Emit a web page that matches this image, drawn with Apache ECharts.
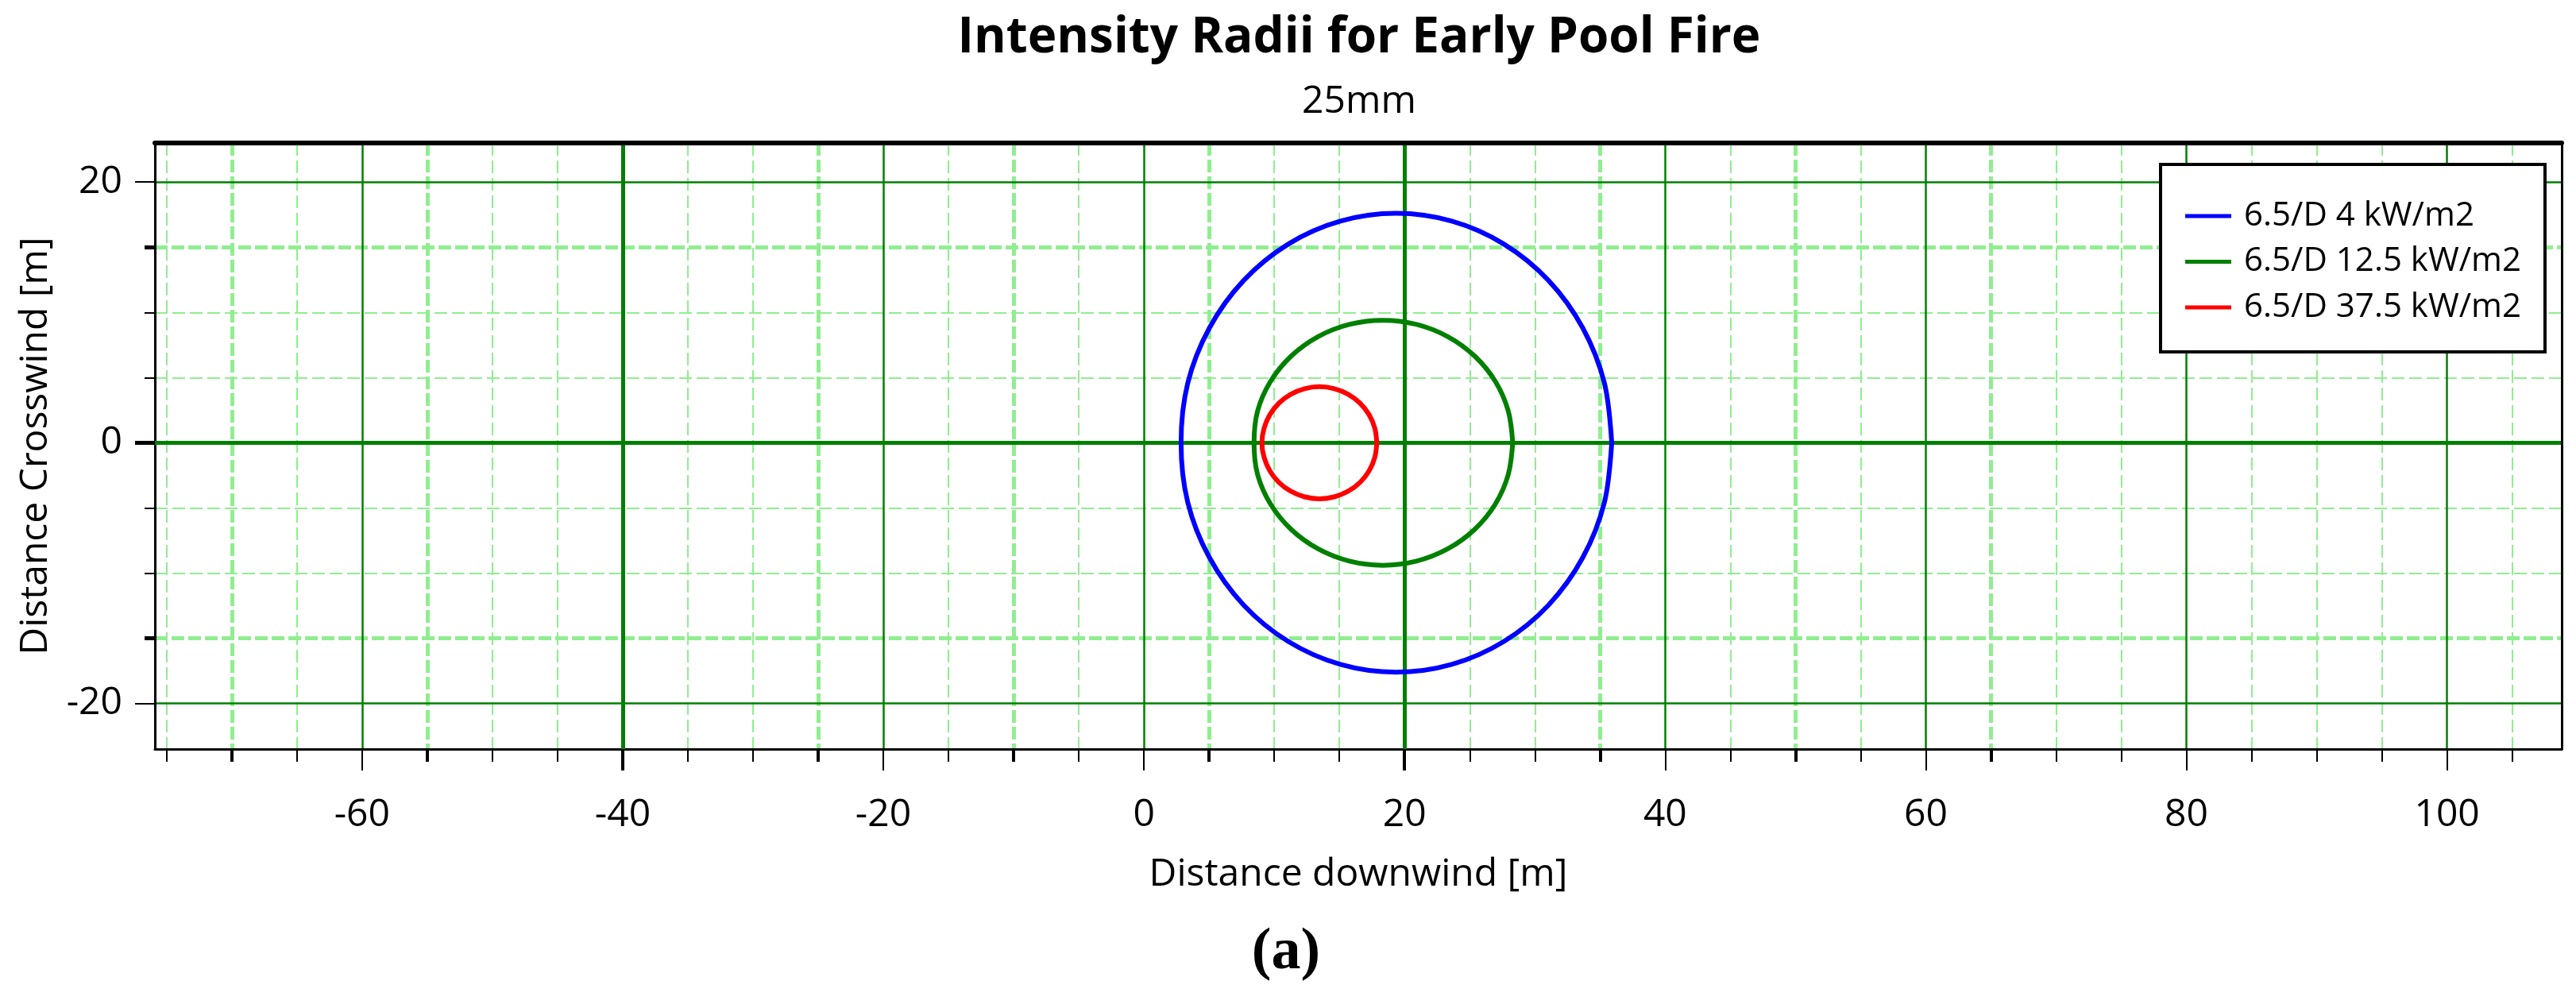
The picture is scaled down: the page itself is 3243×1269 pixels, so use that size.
<!DOCTYPE html>
<html>
<head>
<meta charset="utf-8">
<script src="https://cdn.jsdelivr.net/npm/echarts@6/dist/echarts.min.js"></script>
<style>
html,body{margin:0;padding:0;background:#ffffff;}
#chart{width:3243px;height:1269px;}
</style>
</head>
<body>
<div id="chart"></div>
<script>
// ---------- data ----------
const seriesNames = ['6.5/D 4 kW/m2', '6.5/D 12.5 kW/m2', '6.5/D 37.5 kW/m2'];

// contour points [downwind m, crosswind m]
const contour4kW = [
  [35.90, 0.00], [35.34, 4.56], [33.68, 8.80], [31.05, 12.45], [27.63, 15.24], [23.63, 17.00],
  [19.35, 17.60], [15.07, 17.00], [11.07, 15.24], [7.65, 12.45], [5.02, 8.80], [3.36, 4.56],
  [2.85, 0.00], [3.36, -4.56], [5.02, -8.80], [7.65, -12.45], [11.07, -15.24], [15.07, -17.00],
  [19.35, -17.60], [23.63, -17.00], [27.63, -15.24], [31.05, -12.45], [33.68, -8.80], [35.34, -4.56],
  [35.90, 0.00]
];
const contour12kW = [
  [28.30, 0.00], [27.96, 2.43], [26.97, 4.70], [25.38, 6.65], [23.32, 8.14], [20.92, 9.08],
  [18.34, 9.40], [15.76, 9.08], [13.36, 8.14], [11.30, 6.65], [9.71, 4.70], [8.72, 2.43],
  [8.45, 0.00], [8.72, -2.43], [9.71, -4.70], [11.30, -6.65], [13.36, -8.14], [15.76, -9.08],
  [18.34, -9.40], [20.92, -9.08], [23.32, -8.14], [25.38, -6.65], [26.97, -4.70], [27.96, -2.43],
  [28.30, 0.00]
];
const contour37kW = [
  [17.87, 0.00], [17.72, 1.11], [17.28, 2.15], [16.58, 3.04], [15.67, 3.72], [14.61, 4.15],
  [13.47, 4.30], [12.33, 4.15], [11.27, 3.72], [10.36, 3.04], [9.66, 2.15], [9.22, 1.11],
  [9.05, 0.00], [9.22, -1.11], [9.66, -2.15], [10.36, -3.04], [11.27, -3.72], [12.33, -4.15],
  [13.47, -4.30], [14.61, -4.15], [15.67, -3.72], [16.58, -3.04], [17.28, -2.15], [17.72, -1.11],
  [17.87, 0.00]
];

// axis extents and tick values
const xRange = [-75.9, 108.8];
const yRange = [-23.5, 23.0];
const xLabelValues = [-60, -40, -20, 0, 20, 40, 60, 80, 100];
const xMajorThin = [-60, -20, 0, 40, 60, 80, 100];
const xMajorBold = [-40, 20];
const xMinorBold = [-70, -55, -25, -10, 5, 35, 50, 65];
const xMinorThin = [-75, -65, -50, -45, -35, -30, -15, -5, 10, 15, 25, 30, 45, 55, 70, 75, 85, 90, 95, 105];
const yLabelValues = [-20, 0, 20];
const yMajorThin = [-20, 20];
const yMajorBold = [0];
const yMinorBold = [-15, 15];
const yMinorThin = [-10, -5, 5, 10];

// ---------- styling ----------
const FONT = '"Open Sans", "Noto Sans", sans-serif';
const DARK = '#008000';
const LIGHT = '#90EE90';
const BLACK = '#000000';

function gridAxis(dim, cfg) {
  const range = dim === 'x' ? xRange : yRange;
  return {
    type: 'value',
    gridIndex: 0,
    position: cfg.position,
    min: range[0],
    max: range[1],
    z: cfg.z,
    axisLine: cfg.axisLine || { show: false, onZero: false },
    axisTick: cfg.ticks
      ? { show: true, inside: false, customValues: cfg.ticks, length: cfg.tickLen,
          lineStyle: { color: BLACK, width: cfg.tickWidth } }
      : { show: false },
    axisLabel: cfg.labels
      ? { show: true, customValues: cfg.labels, color: BLACK, fontSize: 48,
          fontFamily: FONT, margin: cfg.labelMargin }
      : { show: false },
    splitLine: cfg.split
      ? { show: true, lineStyle: cfg.split }
      : { show: false },
    name: cfg.name || '',
    nameLocation: 'middle',
    nameGap: cfg.nameGap || 0,
    nameTextStyle: { color: BLACK, fontSize: 48, fontFamily: FONT }
  };
}

const thinDash = { color: LIGHT, width: 2, type: [16, 6] };
const boldDash = { color: LIGHT, width: 5, type: [16, 5] };
const thinSolid = { color: DARK, width: 2.5, type: 'solid' };
const boldSolid = { color: DARK, width: 5, type: 'solid' };

const xAxes = [
  gridAxis('x', { position: 'bottom', z: 0, ticks: xMinorThin, tickLen: 16, tickWidth: 2, split: thinDash }),
  gridAxis('x', { position: 'bottom', z: 0.5, ticks: xMinorBold, tickLen: 16, tickWidth: 4, split: boldDash }),
  gridAxis('x', { position: 'bottom', z: 1, ticks: xMajorThin, tickLen: 27, tickWidth: 2, split: thinSolid,
    labels: xLabelValues, labelMargin: 59,
    axisLine: { show: true, onZero: false, lineStyle: { color: BLACK, width: 3 } },
    name: 'Distance downwind [m]', nameGap: 134 }),
  gridAxis('x', { position: 'bottom', z: 1.2, ticks: xMajorBold, tickLen: 27, tickWidth: 4, split: boldSolid }),
  gridAxis('x', { position: 'top', z: 2,
    axisLine: { show: true, onZero: false, lineStyle: { color: BLACK, width: 6 } } })
];
const yAxes = [
  gridAxis('y', { position: 'left', z: 0, ticks: yMinorThin, tickLen: 13, tickWidth: 2, split: thinDash }),
  gridAxis('y', { position: 'left', z: 0.5, ticks: yMinorBold, tickLen: 13, tickWidth: 5, split: boldDash }),
  gridAxis('y', { position: 'left', z: 1, ticks: yMajorThin, tickLen: 25, tickWidth: 2, split: thinSolid,
    labels: yLabelValues, labelMargin: 41,
    axisLine: { show: true, onZero: false, lineStyle: { color: BLACK, width: 3 } },
    name: 'Distance Crosswind [m]', nameGap: 126 }),
  gridAxis('y', { position: 'left', z: 1.2, ticks: yMajorBold, tickLen: 25, tickWidth: 5, split: boldSolid }),
  gridAxis('y', { position: 'right', z: 2,
    axisLine: { show: true, onZero: false, lineStyle: { color: BLACK, width: 3 } } })
];

const contours = [contour4kW, contour12kW, contour37kW];
const colors = ['#0000FF', '#008000', '#FF0000'];

const option = {
  animation: false,
  backgroundColor: '#ffffff',
  grid: { left: 195, right: 18, top: 180, bottom: 326, containLabel: false, outerBoundsMode: 'none' },
  xAxis: xAxes,
  yAxis: yAxes,
  legend: {
    orient: 'vertical',
    left: 2720,
    top: 207,
    padding: [40, 30, 31, 31],
    itemGap: 7.5,
    icon: 'rect',
    itemWidth: 58,
    itemHeight: 5,
    borderColor: BLACK,
    borderWidth: 4,
    borderRadius: 0,
    backgroundColor: '#ffffff',
    textStyle: { color: BLACK, fontSize: 42, fontFamily: FONT, lineHeight: 50, padding: [0, 0, 0, 11] },
    data: seriesNames
  },
  graphic: [
    { type: 'text', x: 1711, y: 48, z: 10,
      style: { text: 'Intensity Radii for Early Pool Fire', fill: BLACK, font: 'bold 62px ' + FONT,
               align: 'center', verticalAlign: 'middle' } },
    { type: 'text', x: 1711, y: 128, z: 10,
      style: { text: '25mm', fill: BLACK, font: '48px ' + FONT, align: 'center', verticalAlign: 'middle' } },
    { type: 'text', x: 1619, y: 1200, z: 10,
      style: { text: '(a)', fill: BLACK, font: 'bold 74px "Liberation Serif", "DejaVu Serif", serif',
               align: 'center', verticalAlign: 'middle' } }
  ],
  series: seriesNames.map(function (name, i) {
    return {
      name: name,
      type: 'line',
      xAxisIndex: 2,
      yAxisIndex: 2,
      data: contours[i],
      smooth: 0.34,
      symbol: 'none',
      showSymbol: false,
      clip: true,
      z: 5,
      lineStyle: { color: colors[i], width: 6 },
      itemStyle: { color: colors[i] }
    };
  })
};

const chart = echarts.init(document.getElementById('chart'), null, { renderer: 'canvas' });
chart.setOption(option);
</script>
</body>
</html>
